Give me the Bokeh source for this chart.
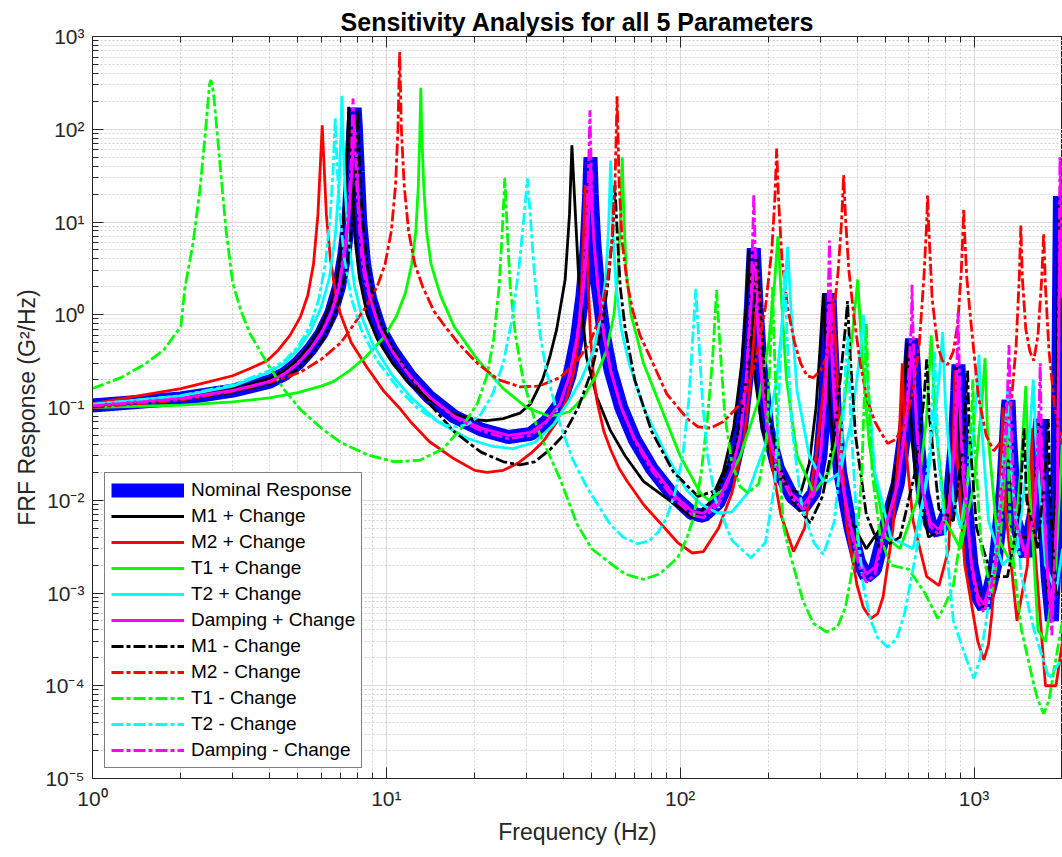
from bokeh.plotting import figure
from bokeh.models import Range1d, FixedTicker, CustomJSTickFormatter, LogAxis, Legend, LegendItem
from bokeh.embed import file_html
from bokeh.resources import INLINE

TITLE = "Sensitivity Analysis for all 5 Parameters"
X_LABEL = "Frequency (Hz)"
Y_LABEL = "FRF Response (G\u00b2/Hz)"
X_TICKS = [1, 10, 100, 1000]
Y_TICKS = [1e-5, 1e-4, 1e-3, 1e-2, 1e-1, 1e0, 1e1, 1e2, 1e3]
X_MAX = 2000

# (frequency Hz, response G^2/Hz)
NOMINAL = [(1, 0.105), (2, 0.125), (3, 0.152), (4, 0.19), (4.5, 0.23), (5, 0.3), (5.5, 0.42), (6, 0.62), (6.5, 1.05),
           (6.9, 2.0), (7.2, 4.5), (7.45, 12), (7.6, 35), (7.72, 100), (7.8, 170), (7.88, 100), (8.0, 35), (8.15, 10),
           (8.4, 3.5), (8.8, 1.5), (9.5, 0.7), (10.5, 0.4), (12, 0.22), (14, 0.13), (17, 0.08), (21, 0.058),
           (26, 0.048), (31, 0.052), (35, 0.07), (39, 0.11), (42, 0.22), (44.5, 0.55), (46.5, 1.6), (48, 5), (49, 20),
           (49.5, 50), (50, 20), (51, 6), (52.5, 2), (55, 0.6), (58, 0.25), (63, 0.1), (70, 0.045), (80, 0.022),
           (95, 0.011), (110, 0.0072), (120, 0.0068), (135, 0.0095), (150, 0.02), (160, 0.05), (168, 0.2), (174, 1.2),
           (178, 5.2), (182, 1.2), (188, 0.25), (198, 0.06), (215, 0.022), (240, 0.011), (263, 0.0085), (285, 0.012),
           (300, 0.03), (312, 0.13), (318, 0.6), (322, 1.7), (326, 0.6), (335, 0.1), (350, 0.02), (380, 0.005),
           (405, 0.0022), (430, 0.0015), (460, 0.0018), (490, 0.004), (550, 0.015), (590, 0.08), (607, 0.3),
           (615, 0.55), (623, 0.3), (640, 0.05), (670, 0.012), (710, 0.0055), (760, 0.0045), (820, 0.008),
           (860, 0.04), (877, 0.15), (885, 0.29), (893, 0.15), (915, 0.02), (980, 0.002), (1030, 0.0009),
           (1080, 0.0007), (1130, 0.0011), (1180, 0.002), (1260, 0.015), (1300, 0.09), (1310, 0.12), (1325, 0.05),
           (1380, 0.006), (1500, 0.0025), (1610, 0.008), (1670, 0.06), (1680, 0.075), (1700, 0.02), (1780, 0.0015),
           (1840, 0.0005), (1920, 0.01), (1960, 19), (2000, 2)]

M1_PLUS = [(1, 0.107), (2, 0.128), (3, 0.158), (4, 0.205), (4.5, 0.25), (5, 0.33), (5.5, 0.48), (6, 0.75), (6.5, 1.4),
           (6.8, 2.5), (7.05, 6), (7.25, 20), (7.38, 70), (7.45, 175), (7.52, 70), (7.65, 20), (7.85, 6), (8.1, 2.5),
           (8.6, 1.0), (9.3, 0.55), (10.5, 0.3), (12, 0.18), (14, 0.12), (17, 0.085), (20, 0.074), (22, 0.072),
           (25, 0.076), (28.5, 0.087), (31, 0.11), (34, 0.2), (36, 0.35), (38, 0.7), (40.6, 2.4), (42, 12),
           (42.8, 67), (44, 12), (45, 3), (46.5, 1.0), (48, 0.35), (52, 0.13), (57.8, 0.057), (65, 0.03),
           (75, 0.016), (98, 0.0086), (110, 0.0065), (125, 0.009), (140, 0.02), (152, 0.06), (162, 0.3), (168, 1.3),
           (171, 5), (174, 1.3), (180, 0.2), (190, 0.06), (210, 0.022), (235, 0.013), (257, 0.012), (275, 0.025),
           (290, 0.1), (300, 0.5), (307, 1.7), (313, 0.5), (325, 0.08), (345, 0.02), (380, 0.006), (430, 0.003),
           (500, 0.006), (550, 0.03), (580, 0.2), (590, 0.5), (600, 0.15), (630, 0.02), (700, 0.004), (790, 0.005),
           (840, 0.03), (862, 0.12), (870, 0.28), (880, 0.1), (910, 0.015), (1000, 0.0015), (1080, 0.0007),
           (1180, 0.002), (1260, 0.02), (1290, 0.12), (1310, 0.03), (1400, 0.004), (1560, 0.004), (1640, 0.03),
           (1660, 0.07), (1680, 0.02), (1780, 0.001), (1840, 0.0006), (1910, 0.02), (1940, 15), (2000, 0.5)]

M2_PLUS = [(1, 0.11), (2, 0.16), (2.5, 0.19), (3, 0.22), (3.5, 0.27), (3.93, 0.32), (4.3, 0.42), (4.7, 0.6),
           (5.1, 0.95), (5.4, 1.6), (5.65, 3.5), (5.85, 12), (5.97, 45), (6.05, 110), (6.13, 45), (6.25, 12),
           (6.45, 4), (6.7, 1.8), (6.97, 1.03), (7.6, 0.5), (8.6, 0.27), (9.8, 0.15), (11.2, 0.095), (12.1, 0.07),
           (14, 0.043), (17, 0.028), (20, 0.021), (22, 0.02), (25, 0.021), (28, 0.025), (31, 0.032), (34.2, 0.043),
           (38, 0.07), (41, 0.12), (43.5, 0.25), (45.2, 0.6), (46.3, 2.4), (47, 8), (47.5, 25), (48, 8), (48.7, 2),
           (49.5, 0.6), (50.5, 0.25), (52, 0.12), (55, 0.055), (58, 0.035), (62, 0.022), (66, 0.016), (75, 0.009),
           (85, 0.0058), (98, 0.0035), (110, 0.0027), (120, 0.0028), (135, 0.005), (150, 0.012), (165, 0.045),
           (175, 0.25), (181, 1.2), (184, 3), (187, 1.2), (193, 0.15), (205, 0.025), (220, 0.007), (243, 0.0028),
           (265, 0.005), (290, 0.03), (310, 0.2), (322, 0.8), (330, 1.5), (338, 0.5), (350, 0.05), (370, 0.005),
           (400, 0.0012), (420, 0.0007), (445, 0.00053), (470, 0.0006), (490, 0.0009), (530, 0.005), (555, 0.04),
           (570, 0.3), (580, 0.05), (620, 0.006), (690, 0.0015), (760, 0.0012), (820, 0.003), (850, 0.05),
           (862, 0.25), (875, 0.03), (930, 0.002), (1030, 0.0003), (1080, 0.00019), (1120, 0.00028), (1150, 0.0006),
           (1220, 0.008), (1255, 0.1), (1280, 0.008), (1400, 0.0005), (1520, 0.002), (1570, 0.06), (1610, 0.003),
           (1750, 0.0001), (1900, 0.0001), (2000, 0.0003)]

T1_PLUS = [(1, 0.1), (2, 0.106), (3, 0.115), (4, 0.127), (5, 0.145), (6, 0.17), (6.6, 0.19), (7.5, 0.25), (8.5, 0.35),
           (9.8, 0.57), (10.8, 0.95), (11.6, 1.7), (12.2, 3.5), (12.6, 8), (12.85, 25), (13.0, 90), (13.1, 280),
           (13.2, 90), (13.4, 25), (13.7, 8), (14.2, 3.5), (15.3, 1.6), (17, 0.75), (20.4, 0.33), (25, 0.16),
           (30, 0.1), (36, 0.08), (42, 0.09), (47, 0.13), (52, 0.23), (56, 0.4), (59.5, 1.0), (61.5, 3), (62.7, 12),
           (63.5, 50), (64.3, 12), (65.5, 3), (68, 1.0), (71, 0.6), (75, 0.3), (87.5, 0.087), (100, 0.03),
           (117, 0.012), (125, 0.01), (140, 0.013), (160, 0.03), (185, 0.12), (200, 0.5), (209, 2), (215, 7),
           (221, 1.5), (230, 0.2), (250, 0.03), (285, 0.012), (320, 0.02), (360, 0.1), (385, 0.6), (402, 2.4),
           (415, 0.4), (440, 0.04), (500, 0.004), (560, 0.003), (640, 0.01), (690, 0.08), (715, 0.6), (735, 0.08),
           (800, 0.006), (900, 0.003), (1000, 0.015), (1060, 0.1), (1090, 0.34), (1110, 0.06), (1200, 0.004),
           (1350, 0.002), (1440, 0.02), (1500, 0.17), (1530, 0.025), (1650, 0.0004), (1750, 0.0003), (1900, 0.002),
           (2000, 0.05)]

T2_PLUS = [(1, 0.108), (2, 0.133), (3, 0.17), (4, 0.24), (4.5, 0.3), (5, 0.42), (5.5, 0.65), (6, 1.2), (6.4, 2.5),
           (6.7, 7), (6.9, 25), (7.0, 80), (7.06, 230), (7.12, 80), (7.25, 20), (7.45, 6), (7.8, 2), (8.3, 0.9),
           (9, 0.48), (10.5, 0.22), (12.1, 0.13), (15, 0.07), (19, 0.046), (23, 0.038), (27, 0.036), (32, 0.042),
           (37, 0.065), (42, 0.12), (46, 0.2), (50.6, 0.4), (53.5, 0.9), (55.8, 2.5), (57, 8), (58, 46), (59, 8),
           (60.5, 2), (63, 0.7), (67, 0.3), (75, 0.1), (90, 0.03), (105, 0.013), (118, 0.009), (135, 0.0072),
           (150, 0.0075), (170, 0.012), (195, 0.04), (213, 0.2), (225, 1.2), (232, 5.4), (238, 1.2), (250, 0.15),
           (275, 0.03), (310, 0.015), (350, 0.02), (385, 0.08), (410, 0.4), (420, 1.0), (430, 0.3), (460, 0.02),
           (520, 0.004), (620, 0.003), (700, 0.02), (760, 0.2), (782, 0.65), (800, 0.1), (850, 0.01), (900, 0.005),
           (980, 0.03), (1030, 0.2), (1040, 0.37), (1055, 0.08), (1120, 0.006), (1250, 0.002), (1400, 0.003),
           (1530, 0.03), (1590, 0.2), (1620, 0.05), (1750, 0.002), (1900, 0.001), (2000, 0.003)]

DAMPING_PLUS = [(1, 0.106), (2, 0.126), (3, 0.153), (4, 0.19), (4.5, 0.23), (5, 0.3), (5.5, 0.42), (6, 0.62),
                (6.5, 1.04), (6.9, 1.95), (7.2, 4.3), (7.45, 11), (7.6, 28), (7.72, 70), (7.8, 110), (7.88, 70),
                (8.0, 28), (8.15, 9), (8.4, 3.4), (8.8, 1.5), (9.5, 0.7), (10.5, 0.4), (12, 0.22), (14, 0.13),
                (17, 0.081), (21, 0.06), (26, 0.05), (31, 0.054), (35, 0.071), (39, 0.11), (42, 0.22), (44.5, 0.55),
                (46.5, 1.5), (48, 4.5), (49, 15), (49.5, 40), (50, 15), (51, 5.5), (52.5, 2), (55, 0.6), (58, 0.25),
                (63, 0.1), (70, 0.046), (80, 0.023), (95, 0.0115), (110, 0.0076), (120, 0.0072), (135, 0.01),
                (150, 0.021), (160, 0.05), (168, 0.19), (174, 1.1), (178, 3.5), (182, 1.1), (188, 0.24), (198, 0.06),
                (215, 0.023), (240, 0.0115), (263, 0.009), (285, 0.0125), (300, 0.03), (312, 0.12), (318, 0.5),
                (322, 1.3), (326, 0.5), (335, 0.1), (350, 0.021), (380, 0.0053), (405, 0.0024), (430, 0.0016),
                (460, 0.0019), (490, 0.0042), (550, 0.015), (590, 0.075), (607, 0.25), (615, 0.4), (623, 0.25),
                (640, 0.05), (670, 0.0125), (710, 0.0058), (760, 0.0048), (820, 0.0085), (860, 0.038), (877, 0.12),
                (885, 0.22), (893, 0.12), (915, 0.02), (980, 0.0021), (1030, 0.00095), (1080, 0.00075),
                (1130, 0.0012), (1180, 0.0021), (1260, 0.014), (1300, 0.07), (1310, 0.09), (1325, 0.04),
                (1380, 0.0062), (1500, 0.0026), (1610, 0.008), (1670, 0.05), (1680, 0.06), (1700, 0.018),
                (1780, 0.0016), (1840, 0.00055), (1920, 0.01), (1960, 8), (2000, 1.5)]

M1_MINUS = [(1, 0.103), (2, 0.12), (3, 0.145), (4, 0.18), (4.5, 0.21), (5, 0.26), (5.5, 0.36), (6, 0.5), (6.5, 0.8),
            (7.0, 1.6), (7.4, 4), (7.7, 12), (7.88, 40), (8.0, 160), (8.1, 40), (8.3, 10), (8.6, 3.5), (9.0, 1.6),
            (9.6, 0.8), (10.5, 0.45), (12, 0.22), (14, 0.11), (17, 0.055), (21, 0.033), (25, 0.026), (28.5, 0.024),
            (32, 0.026), (36, 0.035), (40, 0.05), (45, 0.1), (50, 0.25), (54, 0.7), (57, 2.4), (59, 8), (60, 25),
            (61, 8), (62.5, 2), (65, 0.7), (70, 0.2), (80, 0.055), (95, 0.02), (115, 0.011), (135, 0.013),
            (155, 0.04), (170, 0.25), (178, 1.2), (183, 4), (188, 1.0), (196, 0.12), (215, 0.025), (245, 0.009),
            (277, 0.0057), (305, 0.011), (335, 0.05), (355, 0.3), (366, 0.8), (371, 1.4), (378, 0.4), (395, 0.05),
            (430, 0.007), (480, 0.003), (560, 0.004), (630, 0.02), (675, 0.12), (690, 0.33), (705, 0.08),
            (760, 0.008), (850, 0.006), (920, 0.04), (945, 0.2), (951, 0.25), (962, 0.06), (1020, 0.005),
            (1150, 0.0015), (1300, 0.0015), (1430, 0.008), (1480, 0.06), (1510, 0.01), (1650, 0.003), (1760, 0.03),
            (1790, 0.075), (1815, 0.01), (1900, 0.001), (2000, 0.001)]

M2_MINUS = [(1, 0.1), (2, 0.12), (3, 0.15), (4, 0.185), (5.1, 0.24), (6, 0.33), (7, 0.5), (7.53, 0.69), (8.5, 1.2),
            (9.3, 2.0), (9.9, 3.5), (10.4, 8), (10.75, 25), (10.95, 100), (11.1, 680), (11.25, 100), (11.5, 25),
            (11.9, 8), (12.5, 3.5), (13.3, 2.0), (14.5, 1.1), (15.6, 0.8), (17.5, 0.5), (20.4, 0.3), (24, 0.2),
            (28.5, 0.167), (33, 0.17), (39, 0.21), (44, 0.3), (49.3, 0.5), (53, 0.9), (56.4, 2.2), (58.5, 6),
            (60, 25), (61, 226), (62, 25), (63.5, 6), (66, 2.2), (69, 1.1), (73, 0.6), (79, 0.35), (90, 0.14),
            (106, 0.075), (115, 0.062), (127, 0.06), (140, 0.07), (161, 0.11), (180, 0.3), (195, 1.2), (205, 5),
            (210, 18), (213, 62), (216, 18), (222, 4), (232, 1.2), (245, 0.5), (257, 0.3), (270, 0.22), (284, 0.21),
            (300, 0.25), (315, 0.35), (330, 0.8), (345, 3), (354, 10), (360, 32), (366, 10), (375, 3), (391, 0.9),
            (410, 0.3), (433, 0.12), (460, 0.07), (480, 0.055), (508, 0.041), (540, 0.045), (580, 0.065),
            (620, 0.15), (650, 0.45), (675, 2.5), (690, 10), (695, 19.5), (700, 10), (720, 1.5), (752, 0.46),
            (780, 0.32), (813, 0.29), (850, 0.4), (880, 0.8), (905, 3), (917, 8), (922, 14), (928, 8), (945, 2.5),
            (977, 0.8), (1035, 0.13), (1100, 0.05), (1167, 0.034), (1250, 0.045), (1334, 0.1), (1390, 0.45),
            (1425, 2.5), (1443, 9.3), (1460, 2.5), (1500, 0.7), (1550, 0.4), (1597, 0.32), (1650, 0.6), (1700, 2.5),
            (1726, 7.6), (1750, 2), (1800, 0.4), (1880, 0.1), (2000, 0.04)]

T1_MINUS = [(1, 0.16), (1.25, 0.21), (1.5, 0.29), (1.75, 0.42), (2.0, 0.75), (2.06, 1.9), (2.2, 6), (2.32, 22),
            (2.42, 90), (2.5, 300), (2.53, 340), (2.58, 250), (2.65, 100), (2.72, 40), (2.85, 8), (3.0, 2.2),
            (3.2, 1.1), (3.44, 0.62), (3.93, 0.3), (4.46, 0.16), (5.1, 0.095), (6, 0.06), (7, 0.042), (8.6, 0.031),
            (10.6, 0.026), (13, 0.027), (15.6, 0.036), (18, 0.06), (20.4, 0.11), (22, 0.22), (23.2, 0.55),
            (24.2, 2), (24.8, 8), (25.3, 30), (25.8, 8), (26.4, 2.0), (27.5, 0.6), (29.2, 0.2), (32.6, 0.06),
            (36, 0.03), (39, 0.017), (44.6, 0.0055), (50, 0.003), (57.8, 0.0021), (65, 0.0016), (75, 0.0014),
            (85, 0.0016), (98, 0.0024), (105, 0.0038), (111, 0.0065), (118, 0.02), (124, 0.08), (129, 0.35),
            (133, 1.85), (137, 0.4), (142, 0.08), (150, 0.025), (160, 0.014), (170, 0.012), (185, 0.015),
            (196, 0.04), (202, 0.3), (206, 2.0), (210, 0.3), (216, 0.03), (225, 0.0051), (236, 0.0027),
            (262, 0.00082), (284, 0.00047), (315, 0.00038), (343, 0.00043), (365, 0.0007), (380, 0.0014),
            (400, 0.0037), (415, 0.02), (425, 0.2), (430, 0.8), (436, 0.2), (450, 0.02), (480, 0.004), (520, 0.002),
            (600, 0.0018), (680, 0.001), (720, 0.0007), (752, 0.00053), (790, 0.0007), (850, 0.0012), (940, 0.01),
            (980, 0.08), (990, 0.2), (1000, 0.05), (1060, 0.003), (1150, 0.001), (1230, 0.004), (1280, 0.03),
            (1300, 0.05), (1330, 0.004), (1450, 0.0004), (1600, 0.0001), (1650, 0.00007), (1726, 0.00005),
            (1800, 0.00007), (1850, 0.00012), (2000, 0.0005)]

T2_MINUS = [(1, 0.108), (2, 0.134), (3, 0.175), (4, 0.25), (4.5, 0.32), (5, 0.45), (5.5, 0.75), (5.9, 1.5), (6.2, 3.5),
            (6.45, 12), (6.6, 40), (6.7, 135), (6.8, 40), (6.95, 12), (7.2, 4), (7.6, 1.5), (8.2, 0.7), (9.3, 0.32),
            (11, 0.16), (12.7, 0.1), (14.5, 0.075), (16, 0.064), (17.4, 0.062), (19, 0.066), (21, 0.085), (23, 0.14),
            (25, 0.3), (26.8, 0.9), (28.2, 3), (29.3, 10), (30.2, 29.6), (31, 10), (32, 2.5), (33.4, 0.6),
            (35, 0.25), (39, 0.066), (43, 0.028), (48, 0.014), (53, 0.0085), (57.8, 0.0055), (64, 0.004),
            (71.4, 0.0034), (78, 0.0036), (84, 0.0045), (90, 0.0065), (96, 0.012), (102, 0.03), (107, 0.12),
            (110.5, 0.6), (113, 1.9), (115.5, 0.6), (119, 0.12), (124, 0.03), (132, 0.01), (150, 0.0037),
            (174, 0.0024), (195, 0.0035), (210, 0.015), (218, 0.2), (224, 1.5), (227, 3), (231, 0.6), (240, 0.06),
            (260, 0.008), (285, 0.0035), (307, 0.0026), (335, 0.006), (355, 0.04), (366, 0.3), (372, 0.6),
            (380, 0.08), (400, 0.005), (420, 0.0012), (443, 0.00053), (470, 0.00033), (508, 0.00026),
            (545, 0.00032), (580, 0.0006), (650, 0.004), (710, 0.04), (735, 0.4), (755, 0.03), (850, 0.0005),
            (950, 0.00018), (1000, 0.00012), (1050, 0.0002), (1100, 0.0005), (1200, 0.004), (1270, 0.04),
            (1300, 0.15), (1340, 0.02), (1450, 0.0015), (1600, 0.0004), (1800, 0.00012), (2000, 0.0002)]

DAMPING_MINUS = [(1, 0.104), (2, 0.124), (3, 0.151), (4, 0.19), (4.5, 0.23), (5, 0.3), (5.5, 0.42), (6, 0.63),
                 (6.5, 1.07), (6.9, 2.1), (7.2, 5), (7.45, 15), (7.6, 50), (7.7, 215), (7.8, 90), (7.9, 30),
                 (8.05, 11), (8.25, 4), (8.5, 2.2), (8.8, 1.5), (9.5, 0.7), (10.5, 0.4), (12, 0.22), (14, 0.13),
                 (17, 0.079), (21, 0.056), (26, 0.046), (31, 0.05), (35, 0.069), (39, 0.11), (42, 0.22), (44.5, 0.56),
                 (46.5, 1.8), (48, 8), (48.8, 40), (49.3, 160), (49.8, 40), (50.6, 8), (52.5, 2), (55, 0.6),
                 (58, 0.25), (63, 0.1), (70, 0.044), (80, 0.021), (95, 0.0105), (110, 0.0069), (120, 0.0065),
                 (135, 0.009), (150, 0.02), (160, 0.05), (168, 0.22), (174, 1.6), (176, 5), (178, 20), (180, 5),
                 (184, 1.0), (190, 0.2), (198, 0.06), (215, 0.021), (240, 0.0105), (263, 0.008), (285, 0.0115),
                 (300, 0.03), (312, 0.16), (318, 0.9), (320, 2.5), (322, 6.3), (325, 2), (330, 0.4), (340, 0.08),
                 (350, 0.02), (380, 0.0048), (405, 0.002), (430, 0.0013), (460, 0.0016), (490, 0.0038), (550, 0.015),
                 (590, 0.09), (607, 0.5), (612, 0.8), (615, 2.1), (619, 0.8), (630, 0.15), (645, 0.04), (670, 0.012),
                 (710, 0.0052), (760, 0.0042), (820, 0.0078), (860, 0.045), (875, 0.3), (882, 1.05), (890, 0.3),
                 (905, 0.05), (980, 0.0019), (1030, 0.0008), (1080, 0.00062), (1130, 0.001), (1180, 0.0019),
                 (1260, 0.018), (1300, 0.15), (1315, 0.47), (1330, 0.1), (1380, 0.006), (1500, 0.0024),
                 (1610, 0.009), (1665, 0.1), (1680, 0.3), (1695, 0.05), (1780, 0.0014), (1840, 0.00035),
                 (1920, 0.012), (1960, 50), (2000, 3)]

SERIES = [
    ("Nominal Response", NOMINAL),
    ("M1 + Change", M1_PLUS),
    ("M2 + Change", M2_PLUS),
    ("T1 + Change", T1_PLUS),
    ("T2 + Change", T2_PLUS),
    ("Damping + Change", DAMPING_PLUS),
    ("M1 - Change", M1_MINUS),
    ("M2 - Change", M2_MINUS),
    ("T1 - Change", T1_MINUS),
    ("T2 - Change", T2_MINUS),
    ("Damping - Change", DAMPING_MINUS),
]
DASHDOT = "12 3 4 3"
STYLES = [
    ("#0000ff", 14, "solid"),
    ("#000000", 2.8, "solid"),
    ("#ff0000", 2.8, "solid"),
    ("#00ff00", 2.8, "solid"),
    ("#00ffff", 2.8, "solid"),
    ("#ff00ff", 2.8, "solid"),
    ("#000000", 2.8, DASHDOT),
    ("#ff0000", 2.8, DASHDOT),
    ("#00ff00", 2.8, DASHDOT),
    ("#00ffff", 2.8, DASHDOT),
    ("#ff00ff", 2.8, DASHDOT),
]

FONT = "Liberation Sans"
AXC = "#262626"

p = figure(width=1062, height=857, x_axis_type="log", y_axis_type="log",
           x_range=Range1d(X_TICKS[0], X_MAX), y_range=Range1d(Y_TICKS[0], Y_TICKS[-1]),
           output_backend="svg", toolbar_location=None,
           min_border_left=92, min_border_right=0, min_border_top=36, min_border_bottom=79)

p.title.text = TITLE
p.title.align = "center"
p.title.text_font = FONT
p.title.text_font_size = "25px"
p.title.text_font_style = "bold"
p.title.text_color = "#000000"
p.title.standoff = 2

x_minor = [m * d for d in X_TICKS for m in range(2, 10)]
y_minor = [m * d for d in Y_TICKS[:-1] for m in range(2, 10)]
xt = FixedTicker(ticks=X_TICKS, minor_ticks=x_minor)
yt = FixedTicker(ticks=Y_TICKS, minor_ticks=y_minor)
fmt_code = """
const e = Math.round(Math.log10(tick));
const sup = {'-':'\u207b','0':'\u2070','1':'\u00b9','2':'\u00b2','3':'\u00b3','4':'\u2074','5':'\u2075','6':'\u2076','7':'\u2077','8':'\u2078','9':'\u2079'};
return '10' + String(e).split('').map(c => sup[c]).join('');
"""
fmt = CustomJSTickFormatter(code=fmt_code)
empty = CustomJSTickFormatter(code="return '';")

for ax, t in ((p.xaxis[0], xt), (p.yaxis[0], yt)):
    ax.ticker = t
    ax.formatter = fmt
    ax.major_tick_in = 11
    ax.major_tick_out = 0
    ax.minor_tick_in = 6
    ax.minor_tick_out = 0
    ax.axis_line_color = AXC
    ax.major_tick_line_color = AXC
    ax.minor_tick_line_color = AXC
    ax.major_label_text_font = FONT
    ax.major_label_text_font_size = "21px"
    ax.major_label_text_color = AXC
    ax.axis_label_text_font = FONT
    ax.axis_label_text_font_size = "23px"
    ax.axis_label_text_font_style = "normal"
    ax.axis_label_text_color = AXC

p.xaxis[0].axis_label = X_LABEL
p.yaxis[0].axis_label = Y_LABEL
p.xaxis[0].major_label_standoff = 8
p.xaxis[0].axis_label_standoff = 6
p.yaxis[0].major_label_standoff = 8
p.yaxis[0].axis_label_standoff = 2

top = LogAxis(ticker=xt, formatter=empty, major_tick_in=11, major_tick_out=0, minor_tick_in=6, minor_tick_out=0,
              axis_line_color=AXC, major_tick_line_color=AXC, minor_tick_line_color=AXC,
              major_label_text_font_size="0px", major_label_standoff=0)
p.add_layout(top, "above")

for g in (p.xgrid[0], p.ygrid[0]):
    g.grid_line_color = "#dadada"
    g.grid_line_width = 1
    g.minor_grid_line_color = "#d2d2d2"
    g.minor_grid_line_dash = "2 2"
    g.minor_grid_line_width = 1

p.outline_line_color = AXC
p.outline_line_width = 1
p.background_fill_color = "#ffffff"
p.border_fill_color = "#ffffff"

items = []
for (name, pts), (col, lw, dash) in zip(SERIES, STYLES):
    fx = [a for a, b in pts]
    fy = [b for a, b in pts]
    r = p.line(fx, fy, line_color=col, line_width=lw, line_dash=dash)
    items.append(LegendItem(label=name, renderers=[r]))

leg = Legend(items=items, location=(12, 10), orientation="vertical",
             glyph_width=73, glyph_height=22, label_height=22, label_standoff=7, spacing=4,
             padding=6, margin=0, border_line_color="#000000", border_line_width=1,
             background_fill_color="#ffffff", background_fill_alpha=1.0,
             label_text_font=FONT, label_text_font_size="19px", label_text_color="#000000")
p.add_layout(leg, "center")

open("out.html", "w").write(file_html(p, INLINE))
